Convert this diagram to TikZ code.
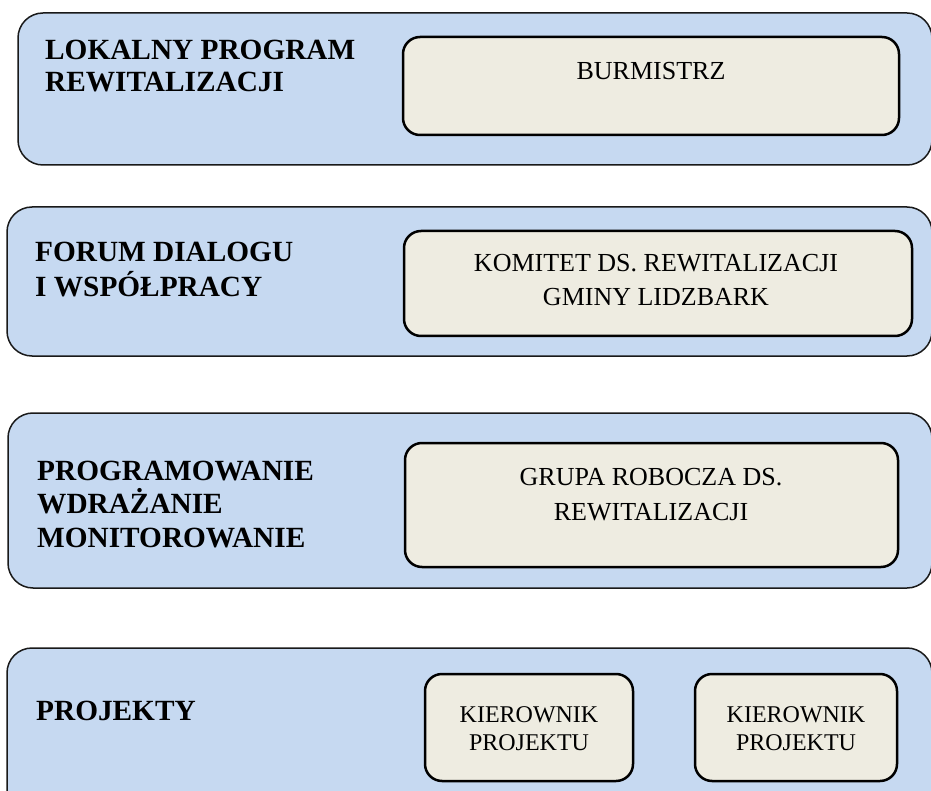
\documentclass[tikz,border=0pt]{standalone}
\usepackage{fontspec}
\setmainfont{Liberation Serif}
\definecolor{panelblue}{HTML}{C6D9F1}
\definecolor{innertan}{HTML}{EEECE1}
\begin{document}
\begin{tikzpicture}[x=1pt,y=-1pt,
  panel/.style={draw=black!90, line width=1.5pt, fill=panelblue, rounded corners=25pt,
    anchor=north west, inner sep=0pt, outer sep=0pt},
  innerbox/.style={draw=black, line width=2.5pt, fill=innertan, rounded corners=17pt,
    anchor=north west, inner sep=0pt, outer sep=0pt},
  title/.style={font=\bfseries\fontsize{29.3}{34}\selectfont, align=left, anchor=base west, inner sep=0pt},
  boxtext/.style={font=\fontsize{26}{34}\selectfont, align=center, anchor=base, inner sep=0pt},
  smalltext/.style={font=\fontsize{24}{28}\selectfont, align=center, anchor=base, inner sep=0pt},
]
\useasboundingbox (0,0) rectangle (931,791);
\clip (0,0) rectangle (931,791);

% panels
\node[panel, minimum width=914pt, minimum height=152pt] (p1) at (18,13) {};
\node[panel, minimum width=925pt, minimum height=149pt] (p2) at (7,207) {};
\node[panel, minimum width=924pt, minimum height=175pt] (p3) at (8,413) {};
\node[panel, minimum width=925pt, minimum height=170pt] (p4) at (7,648) {};

% inner boxes
\node[innerbox, minimum width=496pt, minimum height=98pt] (b1) at (403,37) {};
\node[innerbox, minimum width=508pt, minimum height=105pt] (b2) at (404,231) {};
\node[innerbox, minimum width=493pt, minimum height=124pt] (b3) at (405,443) {};
\node[innerbox, minimum width=208pt, minimum height=107pt] (b4) at (425,674) {};
\node[innerbox, minimum width=202pt, minimum height=107pt] (b5) at (695,674) {};

% titles (anchor = baseline of the last line)
\node[title, font=\bfseries\fontsize{29.3}{32}\selectfont] (t1) at (45,92) {LOKALNY PROGRAM\\REWITALIZACJI};
\node[title, font=\bfseries\fontsize{29.3}{35}\selectfont] (t2) at (35,297) {FORUM DIALOGU\\I WSPÓŁPRACY};
\node[title, font=\bfseries\fontsize{29.3}{33.5}\selectfont] (t3) at (37,547) {PROGRAMOWANIE\\WDRAŻANIE\\MONITOROWANIE};
\node[title] (t4) at (36,720) {PROJEKTY};

% box texts
\node[boxtext] (l1) at (651,80) {BURMISTRZ};
\node[boxtext] (l2) at (656,306) {KOMITET DS. REWITALIZACJI\\GMINY LIDZBARK};
\node[boxtext, font=\fontsize{26}{35}\selectfont] (l3) at (651,520) {GRUPA ROBOCZA DS.\\REWITALIZACJI};
\node[smalltext] (l4) at (529,750) {KIEROWNIK\\PROJEKTU};
\node[smalltext] (l5) at (796,750) {KIEROWNIK\\PROJEKTU};
\end{tikzpicture}
\end{document}
